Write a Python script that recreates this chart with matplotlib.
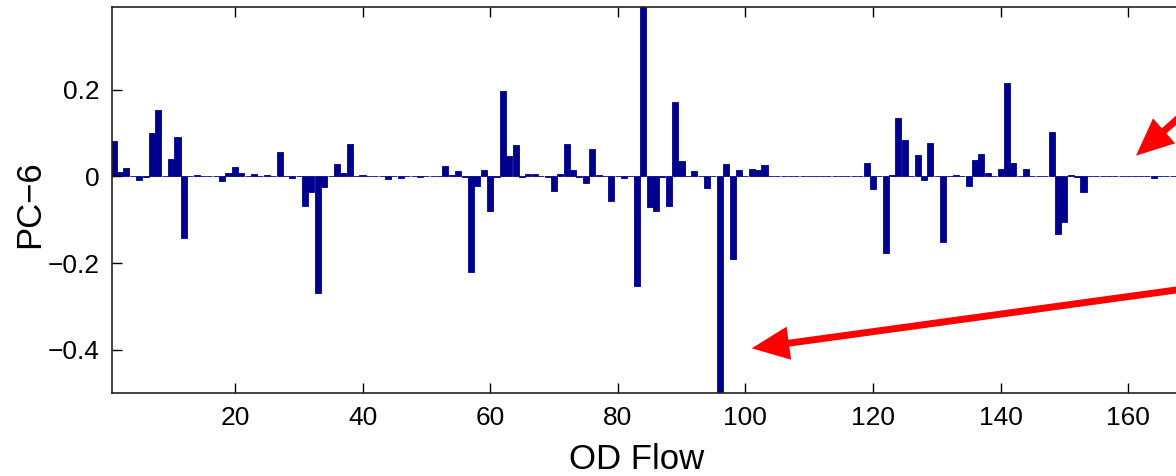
"""
plot.py
-------
Bar plot of the PC-6 loadings over OD flows, with red callout arrows.
"""

import numpy as np
import matplotlib
matplotlib.use("Agg")
import matplotlib.pyplot as plt
from matplotlib.patches import FancyArrowPatch, ArrowStyle


# PC-6 loading per OD flow (flows 1..168)
pc6 = [
    0.082, 0.011, 0.019, 0.002, -0.008, -0.002, 0.100, 0.153, 0.002, 0.040,
    0.092, -0.141, 0.001, 0.004, 0.001, 0.001, 0.001, -0.010, 0.009, 0.022,
    0.008, 0.002, 0.006, 0.002, 0.003, 0.001, 0.057, 0.002, -0.004, 0.002,
    -0.067, -0.037, -0.269, -0.024, 0.001, 0.029, 0.007, 0.074, 0.001, 0.003,
    0.001, 0.002, 0.001, -0.005, 0.002, -0.004, 0.001, 0.001, -0.002, 0.001,
    0.001, 0.001, 0.023, 0.003, 0.013, -0.002, -0.221, -0.022, 0.014, -0.079,
    -0.002, 0.198, 0.046, 0.072, -0.001, 0.005, 0.005, 0.001, -0.002, -0.033,
    0.006, 0.075, 0.015, -0.002, -0.016, 0.064, 0.003, 0.002, -0.056, 0.002,
    -0.003, 0.002, -0.252, 0.430, -0.071, -0.079, -0.001, -0.069, 0.172, 0.036,
    0.001, 0.013, 0.001, -0.027, 0.001, -0.520, 0.028, -0.190, 0.015, 0.001,
    0.018, 0.015, 0.026, 0.001, 0.001, 0.001, 0.001, 0.001, 0.001, 0.001,
    0.001, 0.001, 0.001, 0.001, 0.001, 0.001, 0.001, 0.001, 0.030, -0.030,
    0.001, -0.177, 0.003, 0.135, 0.085, 0.001, 0.050, -0.008, 0.077, 0.001,
    -0.151, 0.002, 0.003, 0.001, -0.021, 0.039, 0.051, 0.007, 0.001, 0.017,
    0.215, 0.030, 0.001, 0.017, 0.001, 0.002, 0.001, 0.102, -0.132, -0.104,
    0.004, -0.001, -0.035, 0.001, 0.002, 0.001, 0.001, 0.001, 0.001, 0.001,
    0.001, 0.001, 0.001, -0.004, 0.001, 0.001, 0.001, 0.001,
]
od_flow = np.arange(1, len(pc6) + 1)

x_ticks = [20, 40, 60, 80, 100, 120, 140, 160]
y_ticks = [-0.4, -0.2, 0, 0.2]
y_tick_labels = ["\u22120.4", "\u22120.2", "0", "0.2"]

BAR_COLOR = "#00008F"
W, H = 1176, 476


def fig_xy(px, py):
    """Image pixel (origin top-left) -> figure fraction."""
    return px / W, (H - py) / H


def add_arrow(fig, tail, tip):
    style = ArrowStyle.Simple(head_length=27, head_width=24, tail_width=5)
    arrow = FancyArrowPatch(fig_xy(*tail), fig_xy(*tip), transform=fig.transFigure,
                            arrowstyle=style, mutation_scale=1, color="#FF0000",
                            linewidth=0, shrinkA=0, shrinkB=0)
    fig.add_artist(arrow)


plt.rcParams["font.family"] = ["Liberation Sans", "DejaVu Sans"]

fig = plt.figure(figsize=(W / 100, H / 100), dpi=100)
ax = fig.add_axes([111.7 / W, (H - 393.3) / H, 1 - 111.7 / W, 386.0 / H])

ax.bar(od_flow, pc6, width=0.95, color=BAR_COLOR, edgecolor=BAR_COLOR, linewidth=0.6)

ax.set_xlim(0.69, 167.5)
ax.set_ylim(-0.5, 0.39)
ax.set_xticks(x_ticks)
ax.set_yticks(y_ticks)
ax.set_yticklabels(y_tick_labels)
ax.tick_params(direction="in", length=7, width=1, top=True, right=False,
               labelsize=19, pad=9, colors="#000000")
for side in ["left", "bottom", "top"]:
    ax.spines[side].set_linewidth(1.2)
    ax.spines[side].set_color("#222222")
ax.spines["right"].set_visible(False)

ax.set_xlabel("OD Flow", fontsize=25)
ax.set_ylabel("PC\u22126", fontsize=25)
ax.xaxis.set_label_coords(0.4936, -0.13)
ax.yaxis.set_label_coords(-0.062, 0.49)

# red callouts, their tails run off the right edge like in the source figure
add_arrow(fig, (1230, 282.6), (751.7, 348.3))
add_arrow(fig, (1220, 81.4), (1136, 155.7))

plt.savefig("out.png", dpi=100)
plt.close()
